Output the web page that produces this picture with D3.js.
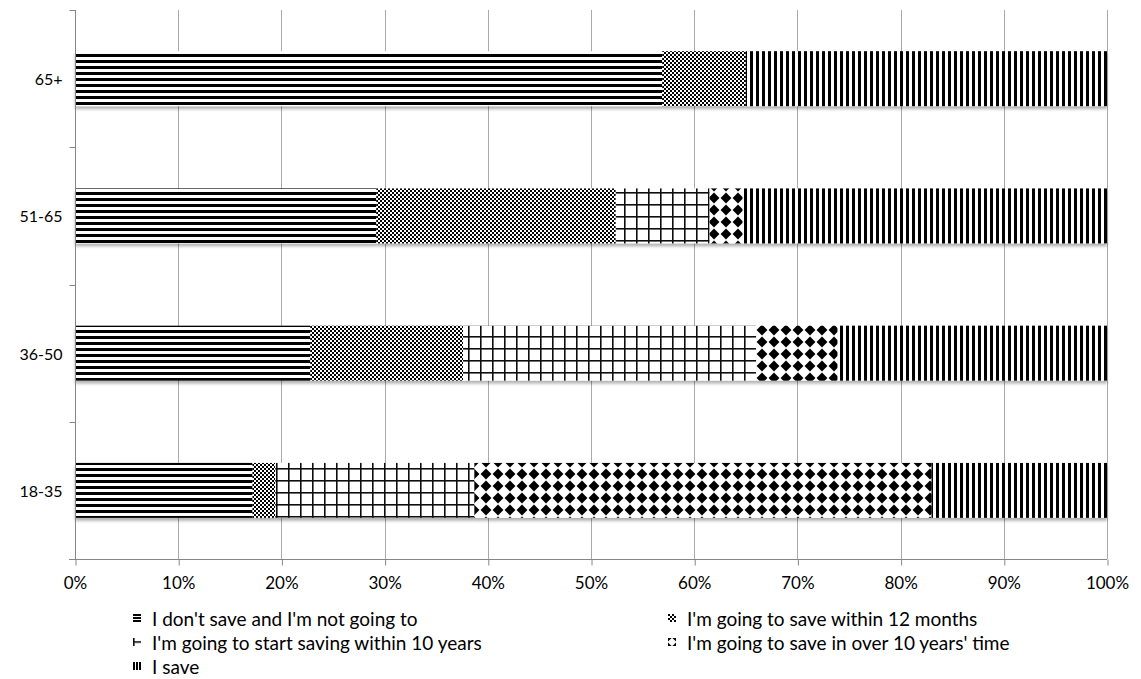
<!DOCTYPE html>
<html><head><meta charset="utf-8">
<script src="https://cdn.jsdelivr.net/npm/d3@7"></script>
<style>
html,body{margin:0;padding:0;background:#fff;}
svg{display:block;font-family:Lato,"Open Sans",sans-serif;}
</style></head>
<body><svg id="chart" width="1141" height="679"></svg>
<script>
// ---- data ----
const categories = ["18-35", "36-50", "51-65", "65+"];
const seriesNames = [
  "I don't save and I'm not going to",
  "I'm going to save within 12 months",
  "I'm going to start saving within 10 years",
  "I'm going to save in over 10 years' time",
  "I save"
];
const notGoing   = [17.2, 22.8, 29.2, 56.9];
const within12m  = [2.2, 14.8, 23.2, 8.1];
const within10y  = [19.3, 28.4, 9.1, 0];
const over10y    = [44.3, 7.9, 3.2, 0];
const iSave      = [17.0, 26.1, 35.3, 35.0];
const xTicks = [0, 0.1, 0.2, 0.3, 0.4, 0.5, 0.6, 0.7, 0.8, 0.9, 1.0];

(function () {
const seriesValues = [notGoing, within12m, within10y, over10y, iSave];
const keys = ["s0", "s1", "s2", "s3", "s4"];
const rows = categories.map((c, i) => {
  const r = {cat: c};
  keys.forEach((k, j) => r[k] = seriesValues[j][i]);
  return r;
});

const svg = d3.select("#chart");
const pLeft = 75, pRight = 1107, pTop = 10, pBottom = 559;

const x = d3.scaleLinear().domain([0, 1]).range([pLeft, pRight]);
const y = d3.scaleBand().domain(categories.slice().reverse()).range([pTop, pBottom])
  .paddingInner(0.6).paddingOuter(0.3);

// ---- patterns ----
const defs = svg.append("defs");
function makePattern(id, w, h, draw, ox, oy) {
  const p = defs.append("pattern").attr("id", id).attr("patternUnits", "userSpaceOnUse")
    .attr("width", w).attr("height", h).attr("x", ox || 0).attr("y", oy || 0);
  p.append("rect").attr("width", w).attr("height", h).attr("fill", "#fff");
  draw(p, w, h);
}
const hStripe = (period, thick) => (p, w, h) => p.append("rect").attr("x", 0).attr("y", 0).attr("width", w).attr("height", thick).attr("fill", "#000");
const vStripe = (period, thick) => (p, w, h) => p.append("rect").attr("x", 0).attr("y", 0).attr("width", thick).attr("height", h).attr("fill", "#000");
const checker = (p) => { p.append("rect").attr("x", 0).attr("y", 0).attr("width", 2).attr("height", 2).attr("fill", "#000");
                         p.append("rect").attr("x", 2).attr("y", 2).attr("width", 2).attr("height", 2).attr("fill", "#000"); };
const grid = (p, w, h) => { p.append("rect").attr("x", 0).attr("y", 0).attr("width", w).attr("height", 1.6).attr("fill", "#111");
                            p.append("rect").attr("x", 0).attr("y", 0).attr("width", 1.6).attr("height", h).attr("fill", "#111"); };
const diamond = (p, w, h) => p.append("path")
  .attr("d", `M${w/2},${w*0.05} L${w*0.95},${h/2} L${w/2},${h*0.95} L${w*0.05},${h/2} Z`).attr("fill", "#000");

makePattern("pat0", 6, 6, hStripe(6, 3));
makePattern("pat1", 4, 4, checker);
makePattern("pat2", 12, 12, grid);
makePattern("pat3", 12, 12, diamond);
makePattern("pat4", 6, 6, vStripe(6, 3));

// shadow filter
const f = defs.append("filter").attr("id", "shadow").attr("x", "-5%").attr("y", "-20%").attr("width", "110%").attr("height", "150%");
f.append("feDropShadow").attr("dx", 0).attr("dy", 3).attr("stdDeviation", 1.8)
  .attr("flood-color", "#000").attr("flood-opacity", 0.3);

// ---- gridlines ----
svg.append("g").selectAll("line").data(xTicks.slice(1)).join("line")
  .attr("x1", d => Math.round(x(d)) + 0.5).attr("x2", d => Math.round(x(d)) + 0.5)
  .attr("y1", pTop).attr("y2", pBottom)
  .attr("stroke", "#aaaaaa").attr("stroke-width", 1);

// ---- bars ----
const stack = d3.stack().keys(keys).offset(d3.stackOffsetExpand);
const stacked = stack(rows);

const barG = svg.append("g").attr("filter", "url(#shadow)");
stacked.forEach((layer, i) => {
  barG.append("g").selectAll("rect").data(layer.filter(d => d[1] - d[0] > 0)).join("rect")
    .attr("x", d => x(d[0]))
    .attr("y", d => y(d.data.cat))
    .attr("width", d => x(d[1]) - x(d[0]))
    .attr("height", y.bandwidth())
    .attr("fill", `url(#pat${i})`);
});

// ---- axes ----
const xAxis = d3.axisBottom(x).tickValues(xTicks).tickFormat(d3.format(".0%")).tickSize(6).tickPadding(11);
const gx = svg.append("g").attr("transform", `translate(0,${pBottom + 0.5})`).call(xAxis);
gx.select(".domain").attr("d", `M${pLeft - 6},0H${pRight}`).attr("stroke", "#868686");
gx.selectAll(".tick line").attr("stroke", "#868686").attr("transform", "translate(0.5,0)");
gx.selectAll(".tick text").attr("font-family", "Lato, 'Open Sans', sans-serif").attr("font-size", 17).attr("fill", "#000");

const gy = svg.append("g").attr("transform", `translate(${pLeft + 0.5},0)`);
gy.append("line").attr("x1", 0).attr("x2", 0).attr("y1", pTop).attr("y2", pBottom).attr("stroke", "#868686");
const boundaries = [pTop].concat(categories.slice().reverse().map(c => y(c) - y.step() * y.paddingOuter() + y.step()));
gy.selectAll("line.t").data(boundaries).join("line").attr("class", "t")
  .attr("x1", -6).attr("x2", 0).attr("y1", d => Math.round(d) + 0.5).attr("y2", d => Math.round(d) + 0.5)
  .attr("stroke", "#868686");
gy.selectAll("text").data(categories).join("text")
  .attr("x", -13).attr("y", d => y(d) + y.bandwidth() / 2)
  .attr("text-anchor", "end").attr("dominant-baseline", "central")
  .attr("font-size", 16).attr("fill", "#000").text(d => d);

// ---- legend ----
const legendPos = [
  {x: 133, y: 618}, {x: 668, y: 618},
  {x: 133, y: 642}, {x: 668, y: 642},
  {x: 133, y: 666}
];
const M = 8; // marker size
legendPos.forEach((p, i) => {
  const lx = p.x, ly = p.y - M / 2;
  if (i === 0) makePattern("lpat0", 3, 3, hStripe(3, 2), lx, ly);
  if (i === 1) makePattern("lpat1", 4, 4, checker, lx, ly);
  if (i === 2) makePattern("lpat2", 12, 12, grid, lx, ly + M / 2 - 0.8);
  if (i === 3) makePattern("lpat3", M, M, diamond, lx - M / 2, ly - M / 2);
  if (i === 4) makePattern("lpat4", 3, 3, vStripe(3, 2), lx, ly);
});
const lg = svg.append("g");
seriesNames.forEach((name, i) => {
  const p = legendPos[i];
  lg.append("rect").attr("x", p.x).attr("y", p.y - M / 2).attr("width", M).attr("height", M)
    .attr("fill", `url(#lpat${i})`);
  lg.append("text").attr("x", p.x + 19).attr("y", p.y).attr("dominant-baseline", "central")
    .attr("font-size", 19).attr("fill", "#000").text(name);
});
})();
</script>
</body></html>
